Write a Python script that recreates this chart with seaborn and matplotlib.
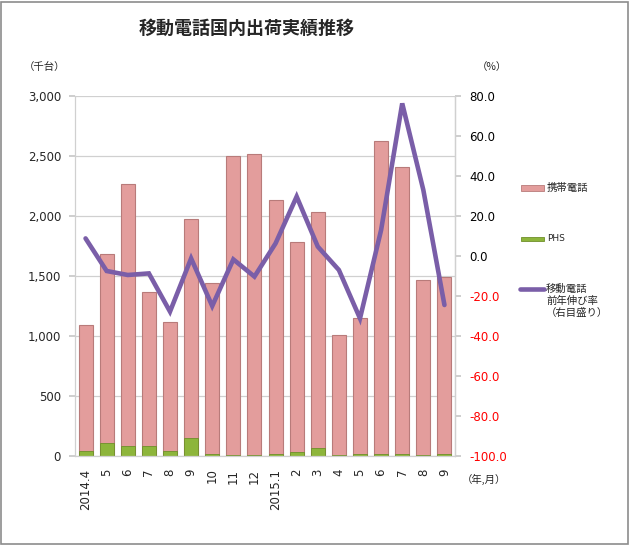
import numpy as np
import pandas as pd
import matplotlib
matplotlib.use("Agg")
import matplotlib.pyplot as plt
import seaborn as sns
from matplotlib.patches import Rectangle
from matplotlib.lines import Line2D

# ---- data ----
months = ["2014.4", "5", "6", "7", "8", "9", "10", "11", "12",
          "2015.1", "2", "3", "4", "5", "6", "7", "8", "9"]
keitai = [1045, 1575, 2185, 1290, 1075, 1825, 1430, 2490, 2505,
          2120, 1750, 1970, 1005, 1135, 2610, 2390, 1462, 1480]
phs = [45, 105, 85, 80, 45, 150, 15, 10, 10,
       15, 35, 65, 5, 15, 15, 20, 8, 15]
growth = [8.8, -7.5, -9.5, -8.7, -27.8, -1.2, -25.0, -1.7, -10.3,
          6.3, 29.7, 4.7, -7.0, -31.2, 13.0, 76.3, 33.0, -24.5]
left_ticks = [0, 500, 1000, 1500, 2000, 2500, 3000]
right_ticks = [-100, -80, -60, -40, -20, 0, 20, 40, 60, 80]

sns.set_theme(style="white")
plt.rcParams['font.family'] = ['Noto Sans CJK JP', 'DejaVu Sans']

W, H = 630, 545
fig = plt.figure(figsize=(W / 100, H / 100), dpi=100)
ax = fig.add_axes([75 / W, 1 - 456 / H, 380 / W, 360 / H])

pos = np.arange(len(months))
df = pd.DataFrame({"pos": pos,
                   "total": np.array(keitai) + np.array(phs),
                   "phs": phs})
pink = "#E39D9C"
green = "#8DB53B"
purple = "#7A5EA8"

sns.barplot(data=df, x="pos", y="total", color=pink, ax=ax, width=0.66,
            saturation=1, edgecolor="#B87B7A", linewidth=0.8, errorbar=None)
sns.barplot(data=df, x="pos", y="phs", color=green, ax=ax, width=0.66,
            saturation=1, edgecolor="#6F8F2A", linewidth=0.6, errorbar=None)

ax.set_ylim(0, 3000)
ax.set_xlim(-0.5, len(months) - 0.5)
ax.set_yticks(left_ticks)
ax.set_yticklabels([f"{v:,}" for v in left_ticks], fontsize=8.5,
                   family=['DejaVu Sans'])
ax.set_xticks(pos)
ax.set_xticklabels(months, rotation=90, fontsize=8.5, family=['DejaVu Sans'])
ax.set_xlabel("")
ax.set_ylabel("")
ax.yaxis.grid(True, color="#D0D0D0", linewidth=0.9)
ax.set_axisbelow(True)
ax.spines["top"].set_visible(False)
for s in ["left", "right", "bottom"]:
    ax.spines[s].set_color("#D0D0D0")
    ax.spines[s].set_linewidth(0.9)
ax.tick_params(axis="y", left=True, length=4, color="#C8C8C8", pad=6)
ax.tick_params(axis="x", bottom=False, pad=3)

ax2 = ax.twinx()
sns.lineplot(x=pos, y=growth, ax=ax2, color=purple,
             linewidth=3.3, solid_joinstyle="miter")
ax2.set_ylim(-100, 80)
ax2.set_xlim(-0.5, len(months) - 0.5)
ax2.set_yticks(right_ticks)
ax2.set_yticklabels([f"{v:.1f}" for v in right_ticks], fontsize=8.5,
                    family=['DejaVu Sans'])
for lab, v in zip(ax2.get_yticklabels(), right_ticks):
    lab.set_color("red" if v < 0 else "black")
ax2.tick_params(axis="y", right=True, length=4, color="#C8C8C8", pad=6)
ax2.set_ylabel("")
for s in ["top", "left", "bottom"]:
    ax2.spines[s].set_visible(False)
ax2.spines["right"].set_color("#D0D0D0")
ax2.spines["right"].set_linewidth(0.9)

# title and unit labels
fig.text(247 / W, 1 - 28 / H, "移動電話国内出荷実績推移", ha="center", va="center",
         fontsize=13, fontweight="bold")
fig.text(45 / W, 1 - 67 / H, "（千台）", ha="center", va="center", fontsize=7.5)
fig.text(492 / W, 1 - 67 / H, "（%）", ha="center", va="center", fontsize=7.5)
fig.text(484 / W, 1 - 479 / H, "（年,月）", ha="center", va="center", fontsize=7.5)

# legend (manual)
fig.add_artist(Rectangle((521 / W, 1 - 190.5 / H), 23 / W, 5 / H,
                         transform=fig.transFigure, facecolor=pink,
                         edgecolor="#B87B7A", linewidth=0.6))
fig.text(547 / W, 1 - 188 / H, "携帯電話", ha="left", va="center", fontsize=7.5)
fig.add_artist(Rectangle((521 / W, 1 - 240.5 / H), 23 / W, 4 / H,
                         transform=fig.transFigure, facecolor=green,
                         edgecolor="#6F8F2A", linewidth=0.6))
fig.text(547 / W, 1 - 238.5 / H, "PHS", ha="left", va="center", fontsize=6.5,
         family=['DejaVu Sans'])
fig.add_artist(Line2D([520 / W, 544 / W], [1 - 288.5 / H, 1 - 288.5 / H],
                      transform=fig.transFigure, color=purple, linewidth=3.3))
for i, t in enumerate(["移動電話", "前年伸び率", "（右目盛り）"]):
    fig.text(546 / W, 1 - (288.5 + 12 * i) / H, t, ha="left", va="center",
             fontsize=7.5)

# outer frame
fig.add_artist(Rectangle((1 / W, 1 / H), (W - 3) / W, (H - 3) / H,
                         transform=fig.transFigure, facecolor="none",
                         edgecolor="#8C8C8C", linewidth=1.2))

fig.savefig("out.png", dpi=100)
